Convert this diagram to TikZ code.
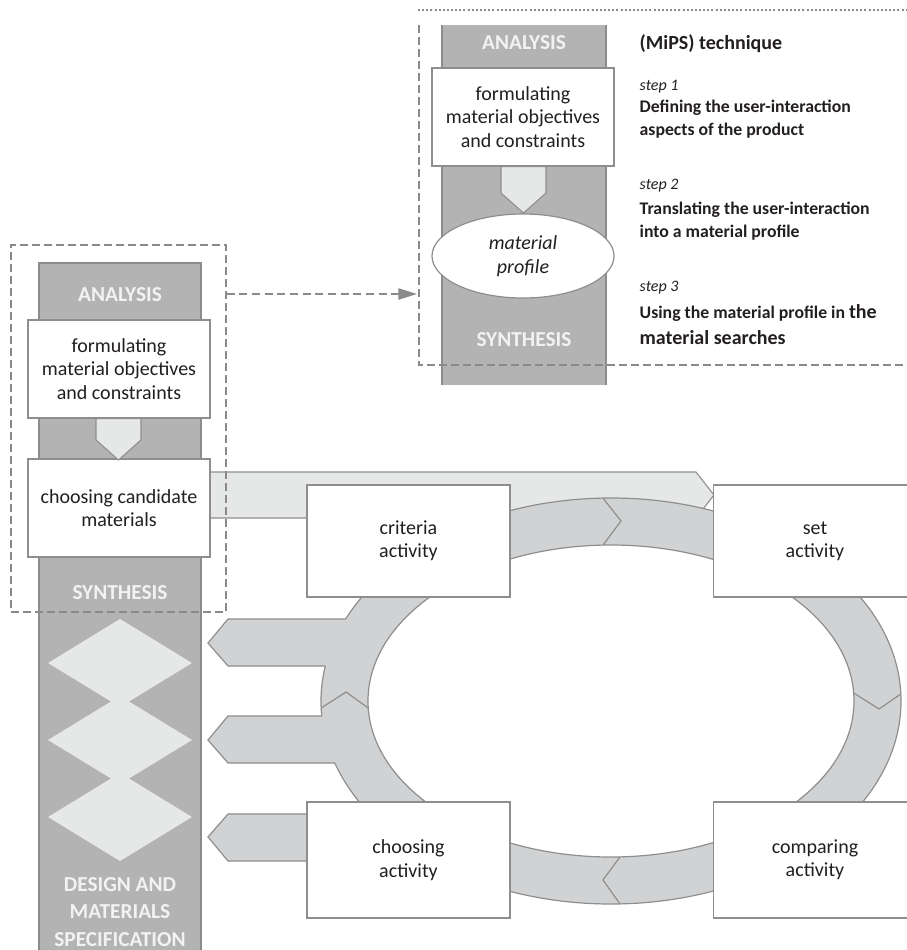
\documentclass[tikz,border=0pt]{standalone}
\usepackage{fontspec}
\setmainfont{Carlito}
\usetikzlibrary{shapes.geometric,arrows.meta}

\definecolor{barfill}{HTML}{B3B3B3}
\definecolor{barline}{HTML}{8C8C8C}
\definecolor{ringfill}{HTML}{D1D2D4}
\definecolor{edge}{HTML}{8E8E8E}
\definecolor{pale}{HTML}{E6E7E7}
\definecolor{ink}{HTML}{231F20}
\definecolor{barlabel}{HTML}{F2F2F2}
\definecolor{frameline}{HTML}{8A8A8A}

\begin{document}
\begin{tikzpicture}[x=0.75pt,y=-0.75pt,line join=miter,
  txt/.style={font=\fontsize{15}{17.5}\selectfont,text=ink},
  box/.style={txt,draw=edge,fill=white,line width=0.9pt,align=center,inner sep=0pt},
  smallbox/.style={box,minimum width=136.5pt,minimum height=73.5pt},
  actbox/.style={box,minimum width=152.25pt,minimum height=84pt},
  bar/.style={fill=barfill,draw=barline,line width=0.9pt,inner sep=0pt},
  barlabel/.style={font=\fontsize{16}{20.5}\selectfont\bfseries,text=barlabel,align=center},
  pointer/.style={fill=pale,draw=edge,line width=0.8pt},
  ringedge/.style={draw=edge,line width=0.9pt},
  diamondshape/.style={fill=pale},
  stepname/.style={anchor=base west,font=\fontsize{12}{14}\selectfont\itshape,text=ink},
  steptext/.style={anchor=base west,font=\fontsize{13.3}{16}\selectfont\bfseries,text=ink},
  frame/.style={draw=frameline,line width=0.8pt,dash pattern=on 6pt off 3pt}]

\useasboundingbox (0,0) rectangle (907,950);

% ---------- grey process columns ----------
\fill[barfill] (442,25) rectangle (606,385);
\draw[barline,line width=0.9pt] (442,25) -- (442,385) (606,25) -- (606,385);
\node[bar,minimum width=121.5pt,minimum height=525pt] (lbar) at (120,613) {};

% diamonds in the left column
\foreach \yy in {663,740,817}
  \fill[diamondshape] (48,\yy) -- (120,\yy-44) -- (192,\yy) -- (120,\yy+44) -- cycle;

% ---------- pale band from candidate materials to the set activity ----------
\draw[pointer] (205,472) -- (696,472) -- (714,495) -- (696,518) -- (205,518) -- cycle;

% ---------- activity ring ----------
\coordinate (rc) at (611,701);
\draw[ringedge,fill=ringfill] (rc) ellipse [x radius=290,y radius=203];
\draw[ringedge,fill=white] (rc) ellipse [x radius=243,y radius=156];

% arms leaving the ring towards the left column
\fill[ringfill] (228,619) -- (208,643) -- (228,666) -- (360,666) -- (360,619) -- cycle;
\fill[ringfill] (228,716) -- (208,740) -- (228,763) -- (350,763) -- (350,716) -- cycle;
\draw[ringedge] (345.7,619) -- (228,619) -- (208,643) -- (228,666) -- (325.3,666);
\draw[ringedge] (321.8,716) -- (228,716) -- (208,740) -- (228,763) -- (334.9,763);
\draw[ringedge,fill=ringfill] (330,814) -- (228,814) -- (208,837) -- (228,861) -- (330,861);

% chevrons splitting the ring into clockwise segments
\draw[ringedge] (603,498.1) -- (621,521) -- (603,545.1);
\draw[ringedge] (900.8,694) -- (879,709) -- (853.7,693);
\draw[ringedge] (620,903.9) -- (603,880) -- (620,856.9);
\draw[ringedge] (321.2,708) -- (346,692) -- (368.2,708);

% ---------- activity boxes ----------
\node[actbox] (criteria)  at (408.5,541) {criteria\\activity};
\node[actbox] (set)       at (815,541)   {set\\activity};
\node[actbox,minimum height=87pt] (choosing)  at (408.5,860) {choosing\\activity};
\node[actbox,minimum height=87pt] (comparing) at (815,860)   {comparing\\activity};

% ---------- left column content ----------
\node[barlabel] (lanalysis) at (120,295) {ANALYSIS};
\node[smallbox] (lform) at (119,369) {formulating\\material objectives\\and constraints};
\node[smallbox] (lcand) at (119,508) {choosing candidate\\materials};
\draw[pointer] (96,418.5) -- (141,418.5) -- (141,440) -- (118.5,460) -- (96,440) -- cycle;
\node[barlabel] (lsynth) at (120,593) {SYNTHESIS};
\node[barlabel] (lspec) at (120,912) {DESIGN AND\\MATERIALS\\SPECIFICATION};

% ---------- MiPS column content ----------
\node[barlabel] (tanalysis) at (524,43) {ANALYSIS};
\node[smallbox] (tform) at (523,117) {formulating\\material objectives\\and constraints};
\draw[pointer] (501,166.5) -- (546,166.5) -- (546,193) -- (523.5,213) -- (501,193) -- cycle;
\node[txt,draw=edge,fill=white,line width=0.9pt,ellipse,inner sep=0pt,
      minimum width=136.5pt,minimum height=63pt,align=center,font=\fontsize{15}{17.5}\selectfont\itshape]
      (profile) at (523,256) {material\\profile};
\node[barlabel] (tsynth) at (524,340) {SYNTHESIS};

% ---------- frames and the link between them ----------
\node[frame,minimum width=161.25pt,minimum height=275.25pt,inner sep=0pt] (lframe) at (118.5,428.5) {};
\draw[draw=frameline,line width=0.8pt,dash pattern=on 1.5pt off 1.6pt] (418,10) -- (907,10);
\coordinate (tfTop) at (419,25);
\coordinate (tfCorner) at (419,365);
\coordinate (tfEnd) at (907,365);
\draw[frame] (tfTop) -- (tfCorner) -- (tfEnd);
\coordinate (linkS) at (lframe.east |- 0,294);
\coordinate (linkE) at (417,294);
\draw[draw=frameline,line width=1.1pt,dash pattern=on 6pt off 3.5pt,
      -{Triangle[length=14pt,width=8.5pt]}] (linkS) -- (linkE);

% ---------- MiPS steps ----------
\node[anchor=base west,font=\fontsize{15}{18}\selectfont\bfseries,text=ink] (mips) at (635,49) {(MiPS) technique};
\node[stepname] (s1)  at (635,90)  {step 1};
\node[steptext] (s1a) at (635,112) {Defining the user-interaction};
\node[steptext] (s1b) at (635,135) {aspects of the product};
\node[stepname] (s2)  at (635,189) {step 2};
\node[steptext] (s2a) at (635,214) {Translating the user-interaction};
\node[steptext] (s2b) at (635,237) {into a material profile};
\node[stepname] (s3)  at (635,291) {step 3};
\node[steptext] (s3a) at (635,318) {Using the material profile in {\fontsize{15}{18}\selectfont the}};
\node[steptext,font=\fontsize{15}{18}\selectfont\bfseries] (s3b) at (635,344) {material searches};

\end{tikzpicture}
\end{document}
